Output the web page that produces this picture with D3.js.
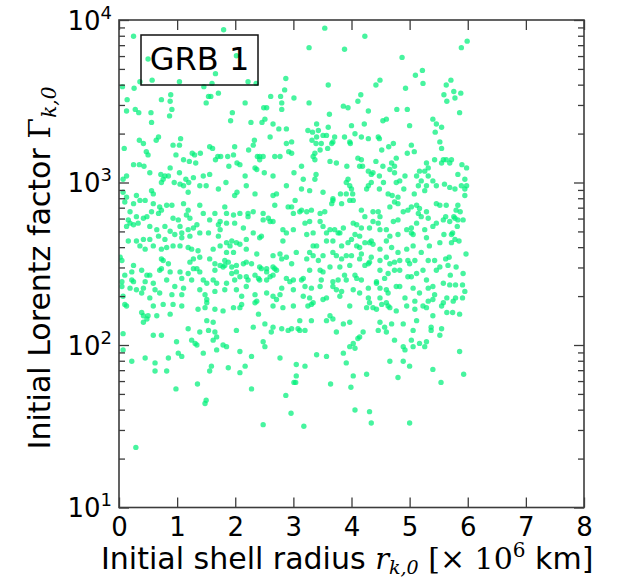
<!DOCTYPE html>
<html>
<head>
<meta charset="utf-8">
<script src="https://cdn.jsdelivr.net/npm/d3@7"></script>
<style>
  body { margin: 0; background: #fff; }
  text { font-family: "DejaVu Sans", sans-serif; fill: #000; }
</style>
</head>
<body>
<svg id="chart"></svg>
<script>
/* Initial shell radius vs initial Lorentz factor, GRB 1 */

// x tick values (× 10^6 km) and the decades of the log y axis
const xTicks = [0, 1, 2, 3, 4, 5, 6, 7, 8];
const yDecades = [1, 2, 3, 4];
const yMinorMult = [2, 3, 4, 5, 6, 7, 8, 9];
const legendLabel = 'GRB 1';

// shells: [r_k,0 (× 10^6 km), log10 Γ_k,0]
const shells = [
  [0.25,3.90],[1.80,3.94],[2.02,3.78],[0.50,3.76],[1.66,3.67],[1.60,3.61],[1.04,3.62],[0.57,3.63],[0.36,3.62],[2.22,3.62],
  [2.36,3.61],[0.06,3.59],[0.26,3.58],[1.46,3.59],[1.71,3.55],[2.87,3.64],[2.85,3.57],[0.89,3.54],[0.73,3.51],[0.14,3.51],
  [0.88,3.50],[1.54,3.53],[1.58,3.53],[1.50,3.49],[2.17,3.49],[2.61,3.53],[2.78,3.53],[2.80,3.49],[3.01,3.52],[0.13,3.44],
  [0.28,3.45],[0.34,3.43],[0.55,3.43],[0.91,3.45],[0.87,3.41],[1.95,3.43],[2.49,3.46],[2.54,3.46],[2.80,3.45],[0.56,3.37],
  [1.92,3.38],[2.27,3.37],[2.46,3.37],[2.51,3.39],[2.65,3.36],[2.88,3.33],[2.75,3.33],[0.68,3.28],[0.64,3.26],[0.35,3.26],
  [0.42,3.24],[1.06,3.27],[1.04,3.23],[0.93,3.23],[0.09,3.21],[0.47,3.19],[0.50,3.17],[0.98,3.17],[1.11,3.14],[1.21,3.13],
  [1.26,3.18],[1.30,3.17],[1.40,3.18],[1.32,3.12],[1.56,3.22],[1.61,3.21],[1.70,3.16],[1.75,3.16],[1.66,3.14],[1.87,3.16],
  [1.97,3.17],[1.99,3.22],[2.03,3.12],[2.08,3.11],[1.89,3.10],[2.23,3.20],[2.31,3.23],[2.33,3.26],[2.38,3.16],[2.42,3.16],
  [2.48,3.16],[2.42,3.14],[2.60,3.28],[2.68,3.16],[2.77,3.16],[2.88,3.24],[2.97,3.25],[2.92,3.19],[2.97,3.18],[0.25,3.11],
  [0.35,3.11],[0.43,3.10],[0.13,3.04],[0.07,3.02],[0.53,3.06],[0.72,3.05],[0.76,3.02],[0.79,3.04],[0.85,3.04],[0.73,3.00],
  [0.88,3.09],[1.04,3.06],[1.05,2.99],[1.11,2.98],[1.15,3.02],[1.20,3.00],[1.28,3.03],[1.45,3.04],[1.56,3.05],[1.39,2.98],
  [1.50,2.98],[1.84,3.00],[2.17,3.04],[2.19,2.98],[2.34,3.09],[2.37,3.08],[2.50,3.06],[2.65,3.04],[2.88,2.98],[3.01,3.06],
  [0.56,2.95],[0.59,2.93],[0.95,3.00],[1.71,2.96],[1.99,2.92],[2.03,2.94],[2.34,2.93],[2.65,2.92],[2.71,2.93],[0.07,2.94],
  [0.13,2.91],[0.30,2.92],[1.19,2.94],
  [0.10,2.88],[0.25,2.87],[0.36,2.89],[0.45,2.89],[0.59,2.87],[0.70,2.85],[0.82,2.86],[0.91,2.86],[1.11,2.87],[1.19,2.83],
  [1.39,2.86],[1.45,2.81],[1.65,2.81],[1.82,2.85],[1.85,2.81],[1.97,2.80],[2.08,2.81],[2.22,2.81],[2.31,2.82],[2.48,2.81],
  [2.57,2.78],[2.68,2.86],[2.91,2.85],[2.97,2.85],[3.03,2.89],[0.19,2.82],[0.16,2.77],[0.30,2.79],[0.42,2.78],[0.48,2.79],
  [0.56,2.82],[0.68,2.81],[0.73,2.83],[0.93,2.78],[1.02,2.77],[1.16,2.80],[1.22,2.78],[1.56,2.77],[1.74,2.76],[2.22,2.79],
  [2.48,2.77],[2.65,2.76],[3.00,2.81],[0.13,2.73],[0.25,2.74],[0.33,2.75],[0.19,2.75],[0.53,2.73],[0.65,2.71],[0.79,2.73],
  [0.88,2.70],[1.05,2.73],[1.08,2.69],[1.19,2.71],[1.28,2.72],[1.34,2.74],[1.39,2.69],[1.54,2.69],[1.71,2.74],[1.74,2.71],
  [1.85,2.75],[1.99,2.75],[2.14,2.72],[2.31,2.69],[2.45,2.67],[2.60,2.76],[2.82,2.71],[2.88,2.69],[3.00,2.71],[0.16,2.64],
  [0.30,2.64],[0.42,2.65],[0.53,2.65],[0.68,2.67],[0.79,2.65],[0.96,2.68],[1.08,2.66],[1.22,2.67],[1.71,2.67],[1.94,2.64],
  [2.19,2.65],[2.42,2.66],[2.82,2.64],[0.36,2.61],[0.45,2.59],[0.59,2.61],[0.73,2.59],[0.82,2.60],[0.93,2.61],[1.05,2.61],
  [1.19,2.60],[1.25,2.59],[1.36,2.58],[1.62,2.59],[1.74,2.61],[1.85,2.63],[1.91,2.61],[2.02,2.63],[2.08,2.62],[1.97,2.57],
  [1.85,2.57],[2.19,2.59],[2.37,2.56],[2.65,2.55],[2.77,2.56],[2.80,2.53],[2.88,2.54],[3.05,2.57],[0.02,2.54],[0.05,2.52],
  [0.25,2.49],[0.73,2.53],[0.76,2.52],[0.85,2.50],[1.22,2.51],[1.28,2.53],[1.39,2.54],[1.56,2.53],[1.65,2.50],[1.82,2.52],
  [1.88,2.51],[1.79,2.48],[1.94,2.48],[2.02,2.49],[2.14,2.50],[2.19,2.51],[2.28,2.50],[2.42,2.48],[2.54,2.47],[2.65,2.48],
  [2.71,2.46],[2.97,2.50],[0.10,2.43],[0.22,2.45],[0.39,2.46],[0.48,2.43],[0.53,2.43],[0.70,2.46],[0.73,2.47],[0.88,2.45],
  [1.05,2.45],[1.19,2.44],[1.28,2.47],[1.34,2.47],[1.39,2.45],[1.65,2.46],[1.74,2.49],[1.82,2.49],[1.94,2.44],[2.02,2.45],
  [2.08,2.42],[2.19,2.42],[2.22,2.40],[2.34,2.43],[2.40,2.41],[2.45,2.47],[2.54,2.45],[2.60,2.42],[2.65,2.43],[2.68,2.47],
  [2.88,2.41],[3.00,2.40],[0.05,2.39],[0.22,2.40],[0.25,2.39],[0.45,2.39],[0.59,2.38],[0.82,2.40],[1.08,2.41],[1.25,2.40],
  [1.45,2.40],[1.51,2.38],[1.62,2.40],[1.68,2.38],[1.85,2.38],[1.99,2.40],[2.19,2.36],[2.42,2.40],[2.54,2.40],[2.80,2.35],
  [2.94,2.39],[0.05,2.36],[0.19,2.35],[0.30,2.34],[0.42,2.35],[0.62,2.34],[0.96,2.36],[1.11,2.35],[1.39,2.34],[1.48,2.31],
  [1.65,2.33],[1.82,2.34],[2.02,2.34],[2.34,2.31],[2.54,2.32],[2.65,2.30],[2.77,2.31],[3.00,2.34],[0.07,2.30],[0.39,2.32],
  [0.53,2.29],[0.70,2.32],[0.91,2.31],[1.08,2.31],[1.51,2.28],[2.11,2.30],[2.37,2.27],[2.71,2.28],[0.10,2.25],[0.13,2.24],
  [0.39,2.20],[0.42,2.18],[0.48,2.16],[0.59,2.24],[0.65,2.18],[0.76,2.25],[0.88,2.19],[0.93,2.25],[1.08,2.24],[1.36,2.22],
  [1.48,2.23],[1.51,2.26],[1.65,2.22],[1.79,2.21],[1.97,2.23],[2.08,2.23],[2.11,2.25],[2.34,2.26],[2.40,2.19],[2.65,2.24],
  [2.82,2.23],[3.00,2.24],[0.42,2.14],[0.50,2.18],[1.19,2.10],[1.39,2.08],[1.51,2.15],[1.54,2.09],[1.62,2.14],[1.65,2.08],
  [1.68,2.05],[2.02,2.09],[2.31,2.11],[2.51,2.13],[2.65,2.11],[2.62,2.08],[2.80,2.10],[2.91,2.09],[2.97,2.10],[3.08,2.10],
  [0.59,2.06],[0.73,2.06],[0.99,2.02],[1.25,2.03],[1.31,2.01],[1.34,2.00],[1.62,2.03],[1.79,2.00],[1.85,1.99],[2.48,2.02],
  [2.51,1.99],[0.07,2.07],[0.07,1.97],[0.22,1.90],[0.45,1.92],[0.62,1.89],[0.85,1.92],[1.02,1.95],[1.08,1.93],[1.45,1.95],
  [1.68,1.97],[2.08,1.96],[2.28,1.93],[2.77,1.92],[3.05,1.88],[0.62,1.84],[0.82,1.84],[1.56,1.84],[1.88,1.86],[2.08,1.83],
  [2.17,1.87],[3.05,1.81],[1.59,1.87],
  [0.98,1.73],[1.35,1.76],[1.50,1.66],[1.48,1.64],[2.28,1.73],[2.48,1.51],[2.87,1.69],[2.96,1.58],[3.01,1.77],[3.04,1.77],
  [0.29,1.37],
  [3.54,3.95],[3.27,3.83],[3.88,3.82],[4.23,3.90],[4.87,3.77],[5.10,3.66],[5.22,3.69],[5.23,3.61],[4.49,3.63],[4.42,3.60],
  [3.60,3.60],[3.27,3.49],[3.86,3.47],[3.94,3.46],[4.11,3.50],[4.16,3.54],[4.29,3.44],[4.93,3.58],[4.78,3.45],[4.96,3.45],
  [5.00,3.35],[5.40,3.39],[5.46,3.36],[5.55,3.34],[5.44,3.31],[5.52,3.25],[5.55,3.21],[5.43,3.14],[5.58,3.14],[5.63,3.14],
  [5.72,3.14],[5.69,3.12],[5.55,3.12],[5.29,3.12],[5.32,3.09],[5.26,3.07],[5.17,3.07],[5.12,3.04],[5.32,3.04],[5.20,3.01],
  [5.29,2.98],[5.40,3.01],[5.46,2.98],[5.15,2.98],[5.26,2.95],[5.60,2.99],[5.69,2.97],[5.78,2.96],[5.89,2.98],[5.95,3.02],
  [5.98,2.98],[5.95,2.96],[5.95,2.92],[5.83,3.05],[5.90,3.11],[5.98,3.09],[5.63,3.60],[5.71,3.63],[5.59,3.54],[5.76,3.56],
  [5.88,3.55],[5.78,3.52],[5.64,3.50],[5.86,3.43],[5.89,3.83],[5.99,3.87],
  [3.62,3.42],[3.40,3.36],[3.43,3.32],[3.33,3.31],[3.25,3.32],[3.51,3.29],[3.40,3.28],[3.57,3.29],[3.60,3.34],[3.71,3.28],
  [3.88,3.28],[3.68,3.25],[3.66,3.24],[3.48,3.24],[3.46,3.20],[3.37,3.18],[3.34,3.16],[3.37,3.14],[3.39,3.24],[3.32,3.26],
  [3.59,3.21],[3.97,3.25],[3.98,3.24],[4.06,3.30],[4.00,3.35],[4.22,3.36],[4.17,3.28],[4.29,3.27],[4.46,3.28],[4.48,3.27],
  [4.54,3.38],[4.60,3.39],[4.64,3.22],[4.72,3.24],[4.52,3.20],[4.77,3.15],[5.03,3.23],[4.96,3.18],[5.08,3.19],[3.63,3.13],
  [3.74,3.12],[3.92,3.10],[4.11,3.15],[4.17,3.14],[4.19,3.10],[4.29,3.07],[4.37,3.06],[4.42,3.13],[4.34,3.05],[4.48,3.04],
  [4.54,3.10],[4.55,3.00],[4.69,3.12],[4.74,3.10],[4.66,3.08],[4.74,3.06],[4.92,3.04],[4.77,3.00],[4.83,3.01],[4.90,2.96],
  [4.80,2.91],[4.70,2.92],[5.08,2.93],[4.63,2.93],[4.48,2.96],[4.34,3.00],[4.29,2.98],[3.94,3.02],[3.97,2.98],[3.91,3.00],
  [4.00,2.96],[4.02,2.93],[3.91,2.93],[3.81,2.93],[3.68,2.90],[3.51,2.94],[3.37,3.02],[3.39,3.05],[3.17,3.02],[3.14,3.10],
  [3.28,2.95],[3.14,2.96],[4.26,2.96],[4.14,3.10],
  [3.11,2.82],[3.14,2.83],[3.23,2.82],[3.31,2.83],[3.46,2.81],[3.54,2.82],[3.66,2.87],[3.68,2.89],[3.83,2.87],[3.97,2.89],
  [4.03,2.89],[4.17,2.83],[4.23,2.79],[4.37,2.82],[4.46,2.82],[4.49,2.79],[4.66,2.85],[4.74,2.88],[4.80,2.87],[4.89,2.82],
  [4.97,2.83],[5.03,2.85],[5.12,2.86],[5.17,2.84],[5.15,2.81],[5.20,2.79],[5.29,2.82],[5.32,2.78],[5.46,2.87],[3.20,2.75],
  [3.28,2.76],[3.46,2.76],[3.51,2.73],[3.63,2.71],[3.71,2.71],[3.77,2.69],[3.86,2.72],[4.03,2.75],[4.09,2.74],[4.17,2.72],
  [4.31,2.72],[4.37,2.76],[4.46,2.75],[4.49,2.71],[4.60,2.71],[4.72,2.76],[4.80,2.77],[4.95,2.71],[5.03,2.72],[5.06,2.68],
  [5.12,2.75],[5.26,2.71],[5.40,2.73],[5.46,2.75],[3.23,2.68],[3.34,2.69],[3.57,2.69],[3.80,2.69],[4.06,2.68],[4.14,2.67],
  [4.66,2.67],[4.80,2.68],[5.03,2.69],[5.29,2.66],[3.34,2.61],[3.40,2.61],[3.57,2.64],[3.68,2.64],[3.83,2.61],[3.94,2.63],
  [4.00,2.65],[4.09,2.61],[4.14,2.60],[4.23,2.63],[4.31,2.63],[4.34,2.64],[4.37,2.62],[4.49,2.59],[4.60,2.64],[4.69,2.60],
  [4.80,2.57],[4.95,2.59],[5.06,2.61],[5.20,2.57],[5.34,2.61],[3.28,2.57],[3.23,2.53],[3.34,2.55],[3.43,2.52],[3.51,2.55],
  [3.68,2.57],[3.74,2.55],[3.83,2.53],[3.91,2.55],[4.00,2.55],[4.14,2.53],[4.17,2.56],[4.31,2.51],[4.34,2.54],[4.49,2.52],
  [4.60,2.54],[4.66,2.50],[4.74,2.51],[4.83,2.52],[4.97,2.52],[5.09,2.52],[5.32,2.52],[5.43,2.52],[3.28,2.46],[3.46,2.46],
  [3.51,2.45],[3.63,2.48],[3.80,2.48],[3.88,2.43],[3.97,2.49],[4.06,2.43],[4.23,2.49],[4.29,2.50],[4.49,2.46],[4.63,2.44],
  [4.74,2.46],[4.83,2.46],[4.97,2.42],[5.00,2.50],[5.12,2.44],[5.23,2.46],[5.46,2.46],[3.14,2.40],[3.17,2.41],[3.48,2.40],
  [3.68,2.39],[3.77,2.40],[3.91,2.40],[4.09,2.41],[4.17,2.40],[4.43,2.39],[4.57,2.41],[5.03,2.42],[5.29,2.40],[5.40,2.36],
  [3.20,2.36],[3.31,2.35],[3.46,2.36],[3.68,2.36],[3.74,2.34],[3.83,2.33],[4.03,2.34],[4.14,2.32],[4.29,2.35],[4.43,2.38],
  [4.49,2.35],[4.60,2.34],[4.63,2.32],[4.77,2.36],[4.83,2.36],[5.06,2.35],[5.17,2.32],[5.32,2.35],[5.43,2.31],[3.17,2.30],
  [3.28,2.29],[3.34,2.26],[3.51,2.28],[3.57,2.29],[3.80,2.30],[3.97,2.24],[4.29,2.29],[4.31,2.26],[4.37,2.23],[4.49,2.29],
  [4.52,2.25],[4.60,2.26],[4.63,2.24],[4.92,2.29],[4.95,2.24],[5.09,2.27],[5.23,2.24],[5.32,2.27],[5.40,2.28],[3.25,2.24],
  [3.31,2.25],[3.63,2.18],[3.68,2.16],[3.86,2.13],[3.97,2.14],[4.26,2.23],[4.43,2.22],[4.66,2.23],[4.77,2.21],[5.09,2.22],
  [5.29,2.23],[5.40,2.18],[3.11,2.15],[3.31,2.15],[3.57,2.15],[4.49,2.14],[4.57,2.11],[4.69,2.13],[4.89,2.13],[5.12,2.15],
  [5.37,2.11],[3.11,2.09],[3.20,2.09],[3.74,2.08],[4.20,2.08],[4.14,2.05],[4.46,2.09],[4.60,2.08],[4.74,2.03],[5.06,2.09],
  [5.37,2.09],[5.03,2.03],[4.03,2.01],[3.97,1.99],[4.11,2.04],[4.89,1.99],[4.92,1.97],[5.06,1.99],[5.17,2.01],[5.26,1.99],
  [5.29,2.02],[3.40,1.94],[3.57,1.93],[3.86,1.95],[4.06,1.98],[4.66,1.90],[4.89,1.90],[5.00,1.87],[5.40,1.85],[3.20,1.87],
  [3.91,1.89],[4.03,1.81],[4.26,1.82],[4.80,1.80],
  [5.52,2.86],[5.63,2.86],[5.83,2.86],[5.80,2.83],[5.87,2.82],[5.58,2.77],[5.62,2.79],[5.69,2.76],[5.76,2.79],[5.78,2.78],
  [5.83,2.77],[5.92,2.77],[5.82,2.73],[5.59,2.68],[5.72,2.68],[5.74,2.69],[5.78,2.65],[5.85,2.64],[5.72,2.63],[5.52,2.63],
  [5.97,2.56],[5.62,2.53],[5.68,2.54],[5.52,2.48],[5.66,2.49],[5.80,2.48],[5.70,2.43],[5.92,2.44],[5.58,2.38],[5.69,2.37],
  [5.79,2.37],[5.91,2.37],[5.95,2.33],[5.64,2.29],[5.79,2.29],[5.75,2.27],[5.91,2.29],[5.58,2.26],[5.55,2.24],[5.64,2.20],
  [5.74,2.20],[5.86,2.19],[5.55,2.10],[5.52,2.06],[5.86,1.96],[5.93,1.82],
  [3.18,1.50],[3.64,1.76],[3.99,1.74],[4.06,1.60],[4.31,1.59],[4.34,1.52],[5.00,1.52],[5.54,1.77]
];

// layout
const W = 621, H = 580;
const plotLeft = 119, plotRight = 584, plotTop = 20, plotBottom = 507.5;
const frameColor = '#3c3c3c';

const svg = d3.select('#chart')
  .attr('width', W)
  .attr('height', H)
  .style('background', '#fff');

const x = d3.scaleLinear().domain([0, 8]).range([plotLeft, plotRight]);
const y = d3.scaleLog().domain([10, 1e4]).range([plotBottom, plotTop]);

// minor and major y ticks
const yMajor = yDecades.map((d) => Math.pow(10, d));
const yMinor = [];
yDecades.slice(0, -1).forEach((d) => {
  yMinorMult.forEach((m) => yMinor.push(m * Math.pow(10, d)));
});
const yAll = yMajor.concat(yMinor);
const isMajor = (v) => yMajor.includes(v);

// points
svg.append('defs').append('clipPath').attr('id', 'plot-clip')
  .append('rect')
  .attr('x', plotLeft).attr('y', plotTop)
  .attr('width', plotRight - plotLeft).attr('height', plotBottom - plotTop);

svg.append('g')
  .attr('clip-path', 'url(#plot-clip)')
  .selectAll('circle')
  .data(shells)
  .join('circle')
  .attr('cx', (d) => x(d[0]))
  .attr('cy', (d) => y(Math.pow(10, d[1])))
  .attr('r', 2.7)
  .attr('fill', '#00f07a')
  .attr('fill-opacity', 0.72);

function styleAxis(g) {
  g.select('.domain').remove();
  g.selectAll('.tick line').attr('stroke', frameColor).attr('stroke-width', 1.3);
}

// bottom axis with labels
svg.append('g')
  .attr('transform', `translate(0,${plotBottom})`)
  .call(d3.axisBottom(x).tickValues(xTicks).tickSize(-10).tickPadding(10).tickFormat(d3.format('d')))
  .call(styleAxis)
  .call((g) => g.selectAll('.tick text')
    .style('font-family', '"DejaVu Sans", sans-serif')
    .style('font-size', '26px')
    .attr('fill', '#000'));

// top axis, ticks only
svg.append('g')
  .attr('transform', `translate(0,${plotTop})`)
  .call(d3.axisTop(x).tickValues(xTicks).tickSize(-10).tickFormat(''))
  .call(styleAxis);

// left axis
svg.append('g')
  .attr('transform', `translate(${plotLeft},0)`)
  .call(d3.axisLeft(y).tickValues(yAll).tickSize(-10).tickFormat(''))
  .call(styleAxis)
  .call((g) => g.selectAll('.tick line').filter((d) => !isMajor(d)).attr('x2', 6));

// right axis
svg.append('g')
  .attr('transform', `translate(${plotRight},0)`)
  .call(d3.axisRight(y).tickValues(yAll).tickSize(-10).tickFormat(''))
  .call(styleAxis)
  .call((g) => g.selectAll('.tick line').filter((d) => !isMajor(d)).attr('x2', -6));

// y tick labels 10^n
const yLabels = svg.append('g')
  .selectAll('text')
  .data(yDecades)
  .join('text')
  .attr('x', 112)
  .attr('y', (d) => y(Math.pow(10, d)) + 9.5)
  .attr('text-anchor', 'end')
  .style('font-size', '26px');
yLabels.append('tspan').text('10');
yLabels.append('tspan')
  .attr('dy', -11)
  .style('font-size', '18px')
  .text((d) => d);

// frame
svg.append('rect')
  .attr('x', plotLeft).attr('y', plotTop)
  .attr('width', plotRight - plotLeft).attr('height', plotBottom - plotTop)
  .attr('fill', 'none')
  .attr('stroke', frameColor)
  .attr('stroke-width', 1.6);

// legend box
svg.append('rect')
  .attr('x', 141).attr('y', 35)
  .attr('width', 117).attr('height', 50)
  .attr('fill', 'none')
  .attr('stroke', '#111')
  .attr('stroke-width', 1.5);
svg.append('text')
  .attr('x', 199.5).attr('y', 69.5)
  .attr('text-anchor', 'middle')
  .style('font-size', '32px')
  .text(legendLabel);

// x axis title
const xt = svg.append('text')
  .attr('x', 101).attr('y', 569)
  .attr('text-anchor', 'start')
  .style('font-size', '30px');
xt.append('tspan').text('Initial shell radius ');
xt.append('tspan')
  .style('font-family', '"DejaVu Serif", serif')
  .style('font-style', 'italic')
  .style('font-size', '29px')
  .text('r');
xt.append('tspan')
  .attr('dy', 5)
  .style('font-family', '"DejaVu Serif", serif')
  .style('font-style', 'italic')
  .style('font-size', '19px')
  .text('k,0');
xt.append('tspan')
  .attr('dy', -5)
  .style('font-family', '"DejaVu Serif", serif')
  .style('font-size', '30px')
  .text(' [× 10');
xt.append('tspan')
  .attr('dy', -12)
  .style('font-family', '"DejaVu Serif", serif')
  .style('font-size', '20px')
  .text('6');
xt.append('tspan')
  .attr('dy', 12)
  .text(' km]');

// y axis title
const yt = svg.append('text')
  .attr('transform', 'translate(50,268) rotate(-90)')
  .attr('text-anchor', 'middle')
  .style('font-size', '30px');
yt.append('tspan').text('Initial Lorentz factor ');
yt.append('tspan')
  .style('font-family', '"DejaVu Serif", serif')
  .text('Γ');
yt.append('tspan')
  .attr('dy', 6)
  .style('font-family', '"DejaVu Serif", serif')
  .style('font-style', 'italic')
  .style('font-size', '20px')
  .text('k,0');
</script>
</body>
</html>
